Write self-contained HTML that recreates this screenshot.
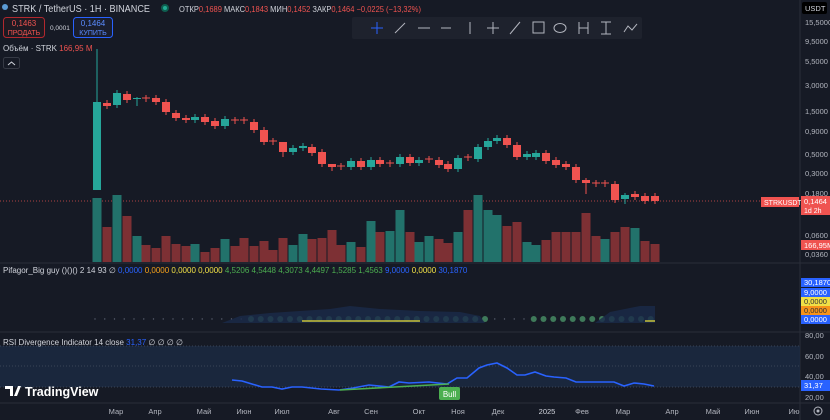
<!DOCTYPE html>
<html><head><meta charset="utf-8"><style>
html,body{margin:0;padding:0;background:#161a25;width:830px;height:420px;overflow:hidden;font-family:"Liberation Sans",sans-serif}
svg{display:block}
</style></head><body>
<svg id="s" width="830" height="420" xmlns="http://www.w3.org/2000/svg" font-family="Liberation Sans, sans-serif">
<rect width="830" height="420" fill="#161a25"/>
<line x1="0" y1="263" x2="830" y2="263" stroke="#2a2e39"/>
<line x1="0" y1="332" x2="830" y2="332" stroke="#2a2e39"/>
<line x1="0" y1="403" x2="830" y2="403" stroke="#2a2e39"/>
<line x1="800" y1="0" x2="800" y2="420" stroke="#2a2e39"/>
<rect x="0" y="346" width="800" height="41" fill="#1c2a44" opacity="0.8"/>
<line x1="0" y1="346" x2="800" y2="346" stroke="#3a4458" stroke-dasharray="1,2"/>
<line x1="0" y1="366" x2="800" y2="366" stroke="#3a4458" stroke-dasharray="1,2"/>
<line x1="0" y1="387" x2="800" y2="387" stroke="#3a4458" stroke-dasharray="1,2"/>
<line x1="0" y1="201" x2="800" y2="201" stroke="#ef5350" stroke-dasharray="1,2" opacity="0.7"/>
<g id="g"></g>
<path d="M222,323 L240,316 L270,313 L300,311 L330,309 L350,306 L380,309 L420,311 L460,312 L480,316 L485,323Z" fill="#1a2a4a" opacity="0.8"/>
<path d="M595,323 L610,312 L640,306 L655,306 L655,323Z" fill="#1a2a4a" opacity="0.8"/>
<line x1="302" y1="321" x2="420" y2="321" stroke="#c8c23a" stroke-width="1.5"/>
<line x1="645" y1="321" x2="655" y2="321" stroke="#c8c23a" stroke-width="1.5"/>
<polyline fill="none" stroke="#2962ff" stroke-width="1.6" points="232,380 242,381 262,387 272,387 282,389 292,387 302,387 321,389 339,390 353,388 369,385 389,387 399,382 409,383 429,382 447,384 457,378 467,378 479,368 487,365 497,363 507,368 517,375 525,375 535,372 546,376 554,377 566,378 576,382 586,382 614,382 624,386 634,383 644,384 654,386"/>
<line x1="340" y1="390" x2="449" y2="384" stroke="#4caf50" stroke-width="1.5"/>
<rect x="439" y="387" width="21" height="13" rx="2" fill="#4caf50"/>
<text x="449.5" y="397" font-size="8" fill="#fff" text-anchor="middle">Bull</text>
<circle cx="5" cy="7" r="3" fill="#5b9bd5"/>
<text x="12" y="12" font-size="10" fill="#d1d4dc" textLength="138" lengthAdjust="spacingAndGlyphs">STRK / TetherUS · 1H · BINANCE</text>
<circle cx="165" cy="8" r="4" fill="#0f5e50"/><circle cx="165" cy="8" r="2" fill="#22ab94"/>
<text x="179" y="12" font-size="8" fill="#d1d4dc" textLength="242" lengthAdjust="spacingAndGlyphs">ОТКР<tspan fill="#ef5350">0,1689</tspan> МАКС<tspan fill="#ef5350">0,1843</tspan> МИН<tspan fill="#ef5350">0,1452</tspan> ЗАКР<tspan fill="#ef5350">0,1464 −0,0225 (−13,32%)</tspan></text>
<rect x="3.5" y="17.5" width="41" height="20" rx="3" fill="#1e1a22" stroke="#b2282e"/>
<text x="24" y="26" font-size="8" fill="#ef5350" text-anchor="middle">0,1463</text>
<text x="24" y="35" font-size="7" fill="#ef5350" text-anchor="middle">ПРОДАТЬ</text>
<text x="50" y="30" font-size="6.5" fill="#d1d4dc">0,0001</text>
<rect x="73.5" y="17.5" width="39" height="20" rx="3" fill="#1a1e2e" stroke="#2962ff"/>
<text x="93" y="26" font-size="8" fill="#5b8cff" text-anchor="middle">0,1464</text>
<text x="93" y="35" font-size="7" fill="#5b8cff" text-anchor="middle">КУПИТЬ</text>
<text x="3" y="51" font-size="8" fill="#d1d4dc">Объём · STRK <tspan fill="#ef5350">166,95 M</tspan></text>
<rect x="3.5" y="57.5" width="16" height="11" rx="2" fill="#161a25" stroke="#363a45"/>
<path d="M8,65 L11.5,62 L15,65" fill="none" stroke="#d1d4dc"/>
<rect x="352" y="17" width="290" height="22" rx="2" fill="#1e222d"/>
<g stroke="#b2b5be" stroke-width="1" fill="none">
<line x1="377" y1="22" x2="377" y2="34" stroke="#2962ff"/><line x1="371" y1="28" x2="383" y2="28" stroke="#2962ff"/>
<line x1="395" y1="33" x2="405" y2="23"/><line x1="418" y1="28" x2="430" y2="28"/><line x1="441" y1="28" x2="451" y2="28"/>
<line x1="470" y1="22" x2="470" y2="34"/><line x1="487" y1="28" x2="499" y2="28"/><line x1="493" y1="22" x2="493" y2="34"/>
<line x1="510" y1="34" x2="520" y2="22"/><rect x="533" y="22" width="11" height="11"/><ellipse cx="560" cy="28" rx="6" ry="4.5"/>
<path d="M579,22 V34 M579,28 H588 M588,22 V34"/><path d="M601,22 H611 M606,22 V34 M601,34 H611"/><path d="M624,32 L628,26 L632,30 L637,24"/>
</g>
<text x="3" y="273" font-size="8" fill="#d1d4dc">Pifagor_Big guy ()()() 2 14 93 &#x2205; <tspan fill="#2962ff">0,0000</tspan> <tspan fill="#f7a21b">0,0000</tspan> <tspan fill="#f0e046">0,0000</tspan> <tspan fill="#f0e046">0,0000</tspan> <tspan fill="#4caf50">4,5206 4,5448 4,3073 4,4497 1,5285 1,4563</tspan> <tspan fill="#2962ff">9,0000</tspan> <tspan fill="#f0e046">0,0000</tspan> <tspan fill="#2962ff">30,1870</tspan></text>
<text x="3" y="345" font-size="8" fill="#d1d4dc">RSI Divergence Indicator 14 close <tspan fill="#2962ff">31,37</tspan> &#x2205; &#x2205; &#x2205; &#x2205;</text>
<path d="M5,386 H13 V396 H10 V389 H5Z M14,396 L18,386 H21 L17,396Z" fill="#fff"/>
<text x="25" y="396" font-size="12.5" font-weight="bold" fill="#fff">TradingView</text>
<g font-size="7.5" fill="#b2b5be">
<rect x="802" y="2" width="25" height="12" rx="2" fill="#000"/>
<text x="805" y="11" fill="#d1d4dc">USDT</text>
<text x="805" y="25">15,5000</text><text x="805" y="44">9,5000</text><text x="805" y="64">5,5000</text><text x="805" y="88">3,0000</text>
<text x="805" y="114">1,5000</text><text x="805" y="134">0,9000</text><text x="805" y="157">0,5000</text><text x="805" y="176">0,3000</text>
<text x="805" y="196">0,1800</text><text x="805" y="238">0,0600</text><text x="805" y="257">0,0360</text>
<rect x="761" y="197" width="38" height="10" fill="#ef5350"/><text x="764" y="205" fill="#fff" font-size="7">STRKUSDT</text>
<rect x="801" y="196" width="29" height="19" fill="#ef5350"/><text x="804" y="204" fill="#fff">0,1464</text><text x="804" y="213" fill="#fff" font-size="7">1d 2h</text>
<rect x="801" y="240" width="29" height="10" fill="#ef5350"/><text x="804" y="248" fill="#fff">166,95M</text>
<rect x="801" y="278" width="29" height="9" fill="#2962ff"/><text x="804" y="285" fill="#fff">30,1870</text>
<rect x="801" y="288" width="29" height="9" fill="#2962ff"/><text x="804" y="295" fill="#fff">9,0000</text>
<rect x="801" y="297" width="29" height="9" fill="#f0e046"/><text x="804" y="304" fill="#333">0,0000</text>
<rect x="801" y="306" width="29" height="9" fill="#f7931a"/><text x="804" y="313" fill="#333">0,0000</text>
<rect x="801" y="315" width="29" height="9" fill="#2962ff"/><text x="804" y="322" fill="#fff">0,0000</text>
<text x="805" y="338">80,00</text><text x="805" y="359">60,00</text><text x="805" y="379">40,00</text><text x="805" y="400">20,00</text>
<rect x="801" y="380" width="29" height="11" fill="#2962ff"/><text x="804" y="388" fill="#fff">31,37</text>
</g>
<circle cx="818" cy="411" r="4" fill="none" stroke="#b2b5be"/><circle cx="818" cy="411" r="1.5" fill="#b2b5be"/>
<g font-size="7.5" fill="#b2b5be" text-anchor="middle">
<text x="116" y="414">Мар</text><text x="155" y="414">Апр</text><text x="204" y="414">Май</text><text x="244" y="414">Июн</text>
<text x="282" y="414">Июл</text><text x="334" y="414">Авг</text><text x="371" y="414">Сен</text><text x="419" y="414">Окт</text>
<text x="458" y="414">Ноя</text><text x="498" y="414">Дек</text><text x="547" y="414" fill="#d1d4dc">2025</text><text x="582" y="414">Фев</text>
<text x="623" y="414">Мар</text><text x="672" y="414">Апр</text><text x="713" y="414">Май</text><text x="752" y="414">Июн</text><text x="794" y="414">Ию</text>
</g>
</svg>
<script>
var ns="http://www.w3.org/2000/svg",g=document.getElementById("g");
function el(t,a){var e=document.createElementNS(ns,t);for(var k in a)e.setAttribute(k,a[k]);g.appendChild(e);return e;}
var C=[[97,102,190,'u',49,190],[107,103,106,'d'],[117,93,105,'u'],[127,94,100,'d'],[137,98,99,'u',97,106],[146,98,99,'x'],[156,98,102,'d'],[166,102,112,'d'],[176,113,118,'d'],[186,118,120,'d'],[195,117,120,'u'],[205,117,122,'d'],[215,121,126,'d'],[225,119,126,'u'],[235,120,121,'x'],[244,120,121,'x'],[254,122,130,'d'],[264,130,142,'d'],[273,141,142,'x'],[283,142,152,'d',142,157],[293,148,152,'u'],[303,146,148,'u'],[312,147,153,'d'],[322,152,164,'d'],[332,164,167,'d',164,171],[341,166,167,'x'],[351,161,167,'u'],[361,161,167,'d'],[371,160,167,'u'],[380,160,164,'d'],[390,163,164,'x'],[400,157,164,'u'],[410,157,163,'d'],[419,160,163,'u'],[429,159,160,'x'],[439,160,165,'d'],[448,164,169,'d'],[458,158,169,'u'],[468,157,158,'x'],[478,147,159,'u'],[488,141,147,'u'],[497,138,141,'u'],[507,138,145,'d'],[517,145,157,'d'],[527,154,157,'u'],[536,153,157,'u'],[546,153,161,'d'],[556,160,165,'d'],[566,164,167,'d'],[576,167,180,'d'],[586,180,183,'d',178,194],[596,183,184,'x'],[605,183,184,'x'],[615,184,200,'d'],[625,195,199,'u',193,204],[635,194,197,'d'],[645,196,201,'d'],[655,196,201,'d']];
C.forEach(function(c){var col=c[3]=='u'?'#26a69a':'#ef5350';var wt=c[4]||c[1]-3,wb=c[5]||c[2]+3;
el('line',{x1:c[0],y1:wt,x2:c[0],y2:wb,stroke:col});
if(c[3]=='x'){el('line',{x1:c[0]-4,y1:c[1],x2:c[0]+4,y2:c[1],stroke:col});}
else el('rect',{x:c[0]-4,y:c[1],width:8,height:Math.max(1,c[2]-c[1]),fill:col});});
var V=[[198,'u'],[227,'d'],[195,'u'],[216,'d'],[236,'u'],[245,'d'],[248,'d'],[236,'d'],[244,'d'],[246,'d'],[244,'u'],[252,'d'],[248,'d'],[239,'u'],[246,'d'],[238,'d'],[246,'d'],[241,'d'],[250,'d'],[238,'d'],[245,'u'],[234,'u'],[239,'d'],[238,'d'],[230,'d'],[245,'d'],[242,'u'],[247,'d'],[221,'u'],[232,'d'],[231,'u'],[210,'u'],[232,'d'],[242,'u'],[236,'u'],[239,'d'],[243,'d'],[232,'u'],[210,'d'],[195,'u'],[210,'u'],[215,'u'],[226,'d'],[222,'d'],[242,'u'],[245,'u'],[240,'d'],[232,'d'],[232,'d'],[232,'d'],[213,'d'],[236,'d'],[239,'u'],[232,'d'],[227,'d'],[228,'u'],[241,'d'],[244,'d']];
V.forEach(function(v,i){var x=C[i][0];el('rect',{x:x-4.5,y:v[0],width:9,height:262-v[0],fill:v[1]=='u'?'#22726b':'#7d3034'});});
for(var x=95;x<655;x+=9.75){var big=(x>250&&x<488)||(x>533);el('circle',{cx:x,cy:319,r:big?3:0.7,fill:big?'#3f7a5a':'#5a6070'});}
</script>
</body></html>
